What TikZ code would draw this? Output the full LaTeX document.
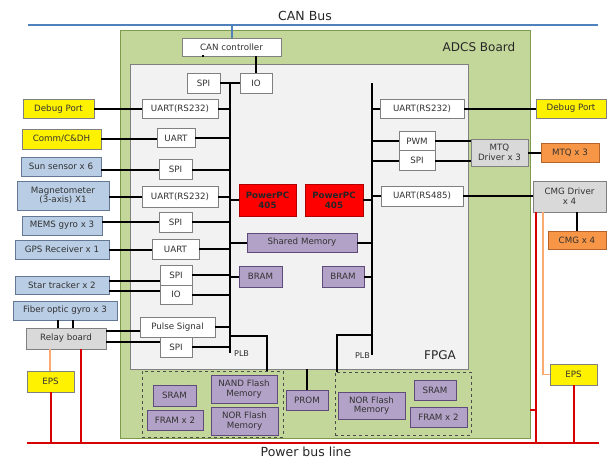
\documentclass[tikz,border=0pt]{standalone}
\usepackage{fontspec}
\setmainfont{DejaVu Sans}
\usepackage{tikz}

\definecolor{boardgreen}{RGB}{196,215,155}
\definecolor{boardedge}{RGB}{125,155,75}
\definecolor{fpgagray}{RGB}{242,242,242}
\definecolor{edgegray}{RGB}{128,128,128}
\definecolor{sensblue}{RGB}{185,205,229}
\definecolor{sensedge}{RGB}{100,120,150}
\definecolor{memviolet}{RGB}{179,162,199}
\definecolor{memedge}{RGB}{96,74,123}
\definecolor{drvgray}{RGB}{217,217,217}
\definecolor{actorange}{RGB}{247,150,70}
\definecolor{actedge}{RGB}{180,100,40}
\definecolor{canblue}{RGB}{79,129,189}
\definecolor{pwrred}{RGB}{215,0,0}
\definecolor{epsline}{RGB}{250,170,110}
\definecolor{txtgray}{RGB}{50,50,50}

\begin{document}
\begin{tikzpicture}[x=1pt,y=-1pt,
  sz/.style 2 args={minimum width=#1pt,minimum height=#2pt},
  base/.style={draw=edgegray,line width=0.9pt,align=center,inner sep=1pt,text=txtgray,font=\fontsize{8.7}{9.7}\selectfont},
  wbox/.style={base,fill=white},
  sens/.style={base,fill=sensblue,draw=sensedge},
  ybox/.style={base,fill=yellow,draw=black!50},
  obox/.style={base,fill=actorange,draw=actedge},
  dbox/.style={base,fill=drvgray},
  mbox/.style={base,fill=memviolet,draw=memedge},
  cpu/.style={base,fill=red,draw=red!70!black,text=black!85,font=\fontsize{8.7}{10}\selectfont\bfseries},
  memarea/.style={draw=black!70,dashed,line width=0.6pt},
  link/.style={line width=2pt},
  pwr/.style={draw=pwrred,line width=2pt},
  feed/.style={draw=epsline,line width=1.5pt},
  title/.style={text=black!85,font=\fontsize{12.5}{14}\selectfont},
  plb/.style={text=txtgray,inner sep=1pt,font=\fontsize{8}{9}\selectfont}]
\useasboundingbox (0,0) rectangle (610,460);

% board and FPGA
\node[draw=boardedge,fill=boardgreen,line width=1pt,sz={410}{407}] (board) at (325,234.5) {};
\node[draw=edgegray,fill=fpgagray,line width=0.8pt,sz={338}{305}] (fpga) at (299,216.5) {};
\node[memarea,sz={141}{66}] (mem1) at (212.5,404) {};
\node[memarea,sz={136}{63}] (mem2) at (403,403.5) {};

\node[title] (canlbl) at (305,16) {CAN Bus};
\node[title,font=\fontsize{12}{14}\selectfont] (brdlbl) at (479,47) {ADCS Board};
\node[title,font=\fontsize{12}{14}\selectfont] (fpgalbl) at (440,355) {FPGA};
\node[title] (pwrlbl) at (306,452) {Power bus line};
\node[plb,anchor=west] (plb1lbl) at (233,354) {PLB};
\node[plb,anchor=east] (plb2lbl) at (371,356) {PLB};

% FPGA interfaces, left side
\node[wbox,sz={99}{18}] (canc) at (231.5,47) {CAN controller};
\node[wbox,sz={33}{20}] (spi0) at (203.5,83) {SPI};
\node[wbox,sz={32}{20}] (io0) at (256,83.5) {IO};
\node[wbox,sz={76}{19}] (u1) at (180,109) {UART(RS232)};
\node[wbox,sz={38}{19}] (u2) at (176,138) {UART};
\node[wbox,sz={33}{20}] (s1) at (175.5,169.5) {SPI};
\node[wbox,sz={76}{21}] (u3) at (180,196.5) {UART(RS232)};
\node[wbox,sz={33}{20}] (s2) at (175.5,222) {SPI};
\node[wbox,sz={47}{20}] (u4) at (175.5,249) {UART};
\node[wbox,sz={32}{20}] (s3) at (176,275) {SPI};
\node[wbox,sz={32}{19}] (io1) at (176,294.5) {IO};
\node[wbox,sz={75}{20}] (ps) at (177.5,327) {Pulse Signal};
\node[wbox,sz={32}{20}] (s4) at (176,347) {SPI};

% FPGA interfaces, right side
\node[wbox,sz={84}{19}] (u5) at (422,108.5) {UART(RS232)};
\node[wbox,sz={36}{19}] (pwm) at (417,141) {PWM};
\node[wbox,sz={36}{20}] (s5) at (417,160.5) {SPI};
\node[wbox,sz={82}{20}] (u6) at (422,196) {UART(RS485)};

% processors and memories
\node[cpu,sz={57}{32}] (ppc1) at (267.5,200) {PowerPC\\405};
\node[cpu,sz={58}{32}] (ppc2) at (334,200) {PowerPC\\405};
\node[mbox,sz={110}{19}] (shm) at (302,242.5) {Shared Memory};
\node[mbox,sz={43}{21}] (bram1) at (260.5,276.5) {BRAM};
\node[mbox,sz={42}{21}] (bram2) at (343,276.5) {BRAM};
\node[mbox,sz={43}{21}] (sram1) at (174.5,395.5) {SRAM};
\node[mbox,sz={56}{20}] (fram1) at (175,420) {FRAM x 2};
\node[mbox,sz={66}{28}] (nand) at (244,389) {NAND Flash\\Memory};
\node[mbox,sz={67}{28}] (nor1) at (244.5,421) {NOR Flash\\Memory};
\node[mbox,sz={42}{20}] (prom) at (307,400) {PROM};
\node[mbox,sz={67}{27}] (nor2) at (371.5,405.5) {NOR Flash\\Memory};
\node[mbox,sz={42}{20}] (sram2) at (435,390) {SRAM};
\node[mbox,sz={57}{20}] (fram2) at (438.5,417) {FRAM x 2};

% external units
\node[ybox,sz={71}{19}] (dbg1) at (58.5,109) {Debug Port};
\node[ybox,sz={79}{20}] (com) at (61.5,139) {Comm/C\&DH};
\node[sens,sz={80}{19}] (sun) at (61,166.5) {Sun sensor x 6};
\node[sens,sz={92}{29}] (mag) at (63,195.5) {Magnetometer\\(3-axis) X1};
\node[sens,sz={80}{19}] (mems) at (62,225.5) {MEMS gyro x 3};
\node[sens,sz={94}{19}] (gps) at (62,249.5) {GPS Receiver x 1};
\node[sens,sz={94}{18}] (star) at (62,285.5) {Star tracker x 2};
\node[sens,sz={104}{19}] (fog) at (65,310.5) {Fiber optic gyro x 3};
\node[dbox,sz={80}{21}] (relay) at (66,338.5) {Relay board};
\node[ybox,sz={47}{21}] (eps1) at (50.5,381.5) {EPS};
\node[ybox,sz={70}{19}] (dbg2) at (571,108.5) {Debug Port};
\node[dbox,sz={57}{27}] (mtqd) at (499.5,152.5) {MTQ\\Driver x 3};
\node[obox,sz={58}{19}] (mtq) at (570,152.5) {MTQ x 3};
\node[dbox,sz={73}{31}] (cmgd) at (569.5,196.5) {CMG Driver\\x 4};
\node[obox,sz={58}{18}] (cmg) at (577,240) {CMG x 4};
\node[ybox,sz={47}{21}] (eps2) at (573.5,374.5) {EPS};

% buses
\coordinate (canl) at (28,25);
\coordinate (canr) at (598,25);
\coordinate (lb) at (230,83);
\coordinate (lbe) at (230,353);
\coordinate (rb) at (372,83);
\coordinate (rbe) at (372,355);
\coordinate (plb1) at (230,336);
\coordinate (plb2) at (372,335);
\coordinate (pwl) at (27,443);
\coordinate (pwrr) at (599,443);
\coordinate (pstub) at (530,410);
\coordinate (pj) at (536,410);

\draw[draw=canblue,line width=2pt] (canl) -- (canr);
\draw[draw=canblue,line width=2pt] (canc.north) -- (canc.north |- canl);
\draw[link] (lb) -- (lbe);
\draw[link] (rb) -- (rbe);
\draw[link] ([xshift=-29.5pt]canc.south) -- (canc.south -| spi0.north);
\draw[link] ([xshift=24.5pt]canc.south) -- (io0.north);
\draw[link] (spi0.east) -- (spi0.east -| io0.west);

% interfaces to the two buses
\foreach \n in {u1,u2,s1,u3,s2,u4,s3,io1,ps,s4}
  \draw[link] (\n.east) -- (\n.east -| lb);
\foreach \n in {ppc1,shm,bram1}
  \draw[link] (\n.west) -- (\n.west -| lb);
\foreach \n in {u5,pwm,s5,u6}
  \draw[link] (\n.west) -- (\n.west -| rb);
\foreach \n in {ppc2,shm,bram2}
  \draw[link] (\n.east) -- (\n.east -| rb);
\draw[link] (plb1) -| ([xshift=54.5pt]mem1.north);
\draw[link] (plb2) -| ([xshift=-66pt]mem2.north);
\draw[link] (prom.north) -- (prom.north |- fpga.south);

% external links
\draw[link] (dbg1.east) -- (u1.west);
\draw[link] (com.east) -- (com.east -| u2.west);
\draw[link] (sun.east |- s1.west) -- (s1.west);
\draw[link] (mag.east |- u3.west) -- (u3.west);
\draw[link] (mems.east |- s2.west) -- (s2.west);
\draw[link] (gps.east) -- (gps.east -| u4.west);
\coordinate (st1) at ([yshift=4.5pt]star.east);
\coordinate (st2) at ([yshift=-5.5pt]star.east);
\draw[link] (st1) -- (st1 -| s3.west);
\draw[link] (st2) -- (st2 -| io1.west);
\draw[link] ([xshift=-7pt]fog.south) -- ([xshift=-8pt]relay.north);
\draw[link] ([xshift=8pt]fog.south) -- ([xshift=7pt]relay.north);
\coordinate (rl1) at ([yshift=7.5pt]relay.east);
\coordinate (rl2) at ([yshift=-3.5pt]relay.east);
\draw[link] (rl1) -- (rl1 -| ps.west);
\draw[link] (rl2) -- (rl2 -| s4.west);
\draw[link] (u5.east) -- (dbg2.west);
\draw[link] (pwm.east) -- (pwm.east -| mtqd.west);
\draw[link] (s5.east) -- (s5.east -| mtqd.west);
\draw[link] (mtqd.east) -- (mtqd.east -| mtq.west);
\draw[link] (u6.east) -- (u6.east -| cmgd.west);
\draw[link] (cmg.north) -- (cmg.north |- cmgd.south);

% power
\draw[pwr] (pwl) -- (pwrr);
\draw[feed] ([xshift=-16pt]relay.south) -- ([xshift=-16pt]relay.south |- eps1.north);
\draw[pwr] ([xshift=15pt]relay.south) -- ([xshift=15pt]relay.south |- pwl);
\draw[pwr] (eps1.south) -- (eps1.south |- pwl);
\draw[pwr] ([xshift=-33.5pt]cmgd.south) -- (pj) -- (pstub);
\draw[pwr] (pj) -- (pj |- pwl);
\draw[feed] ([xshift=-26.5pt]cmgd.south) |- (eps2.west);
\draw[pwr] (eps2.south) -- (eps2.south |- pwl);
\end{tikzpicture}
\end{document}
